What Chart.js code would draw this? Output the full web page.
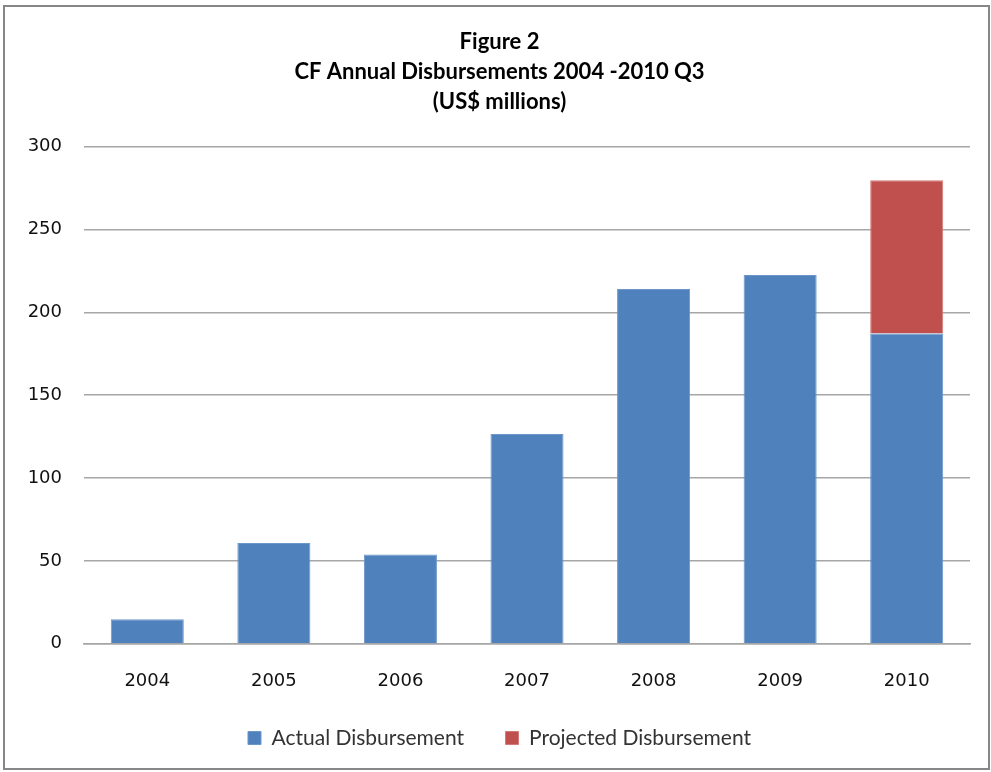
<!DOCTYPE html>
<html>
<head>
<meta charset="utf-8">
<script src="https://cdn.jsdelivr.net/npm/chart.js@4/dist/chart.umd.min.js"></script>
<style>
  html, body { margin: 0; padding: 0; background: #fff; }
  #frame {
    position: absolute; left: 3px; top: 5px; width: 987px; height: 765px;
    box-sizing: border-box; border: 2px solid #878787;
  }
  #wrap { position: absolute; left: 0; top: 0; width: 991px; height: 772px; }
</style>
</head>
<body>
<div id="frame"></div>
<div id="wrap"><canvas id="chart" width="991" height="772"></canvas></div>
<script>
// values (US$ millions)
let years = ["2004", "2005", "2006", "2007", "2008", "2009", "2010"]
let actual = [14.8, 60.8, 53.8, 126.6, 214.2, 222.6, 187.2]
let projected = [null, null, null, null, null, null, 92.6]
let titleLines = ["Figure 2", "CF Annual Disbursements 2004 -2010 Q3", "(US$ millions)"]

let ctx = document.getElementById("chart")

let chart = new Chart(ctx, {
    type: 'bar',
    data: {
        labels: years,
        datasets: [{
            label: "Actual Disbursement",
            data: actual,
            backgroundColor: '#4f81bd',
            borderColor: '#6d97cb',
            borderWidth: 1,
            stack: 's'
        },
        {
            label: "Projected Disbursement",
            data: projected,
            backgroundColor: '#c0504d',
            borderColor: '#d27a78',
            borderWidth: 1,
            stack: 's'
        }]
    },
    options: {
        responsive: false,
        animation: false,
        layout: {
            padding: { left: 29, right: 21, top: 0, bottom: 13.5 }
        },
        datasets: {
            bar: { barPercentage: 0.577, categoryPercentage: 1.0 }
        },
        scales: {
            x: {
                stacked: true,
                grid: { display: false },
                border: { display: true, color: '#a6a6a6', width: 1.5 },
                ticks: {
                    padding: 18.5,
                    color: '#111',
                    font: { family: 'DejaVu Sans', size: 18 }
                },
                afterFit: function (scale) { scale.height = 73.8 }
            },
            y: {
                stacked: true,
                min: 0,
                max: 300,
                ticks: {
                    stepSize: 50,
                    padding: 22,
                    color: '#111',
                    font: { family: 'DejaVu Sans', size: 18 }
                },
                grid: { color: '#a6a6a6', lineWidth: 1.5, drawTicks: false },
                border: { display: false },
                afterFit: function (scale) { scale.width = 84 - 29 }
            }
        },
        plugins: {
            title: {
                display: true,
                text: titleLines,
                color: '#000',
                font: { family: 'Lato', size: 22, weight: 'bold', lineHeight: 1.36 },
                padding: { top: 27, bottom: 30 }
            },
            legend: {
                display: true,
                position: 'bottom',
                labels: {
                    boxWidth: 13,
                    boxHeight: 13,
                    padding: 10,
                    color: '#333',
                    font: { family: 'Lato', size: 21 },
                    // wider gap between the two entries, like the original
                    generateLabels: function (chart) {
                        let items = Chart.defaults.plugins.legend.labels.generateLabels(chart)
                        items[0].text = items[0].text + '\u2002\u2002\u2002'
                        return items
                    }
                }
            },
            tooltip: { enabled: false }
        }
    }
})
</script>
</body>
</html>
